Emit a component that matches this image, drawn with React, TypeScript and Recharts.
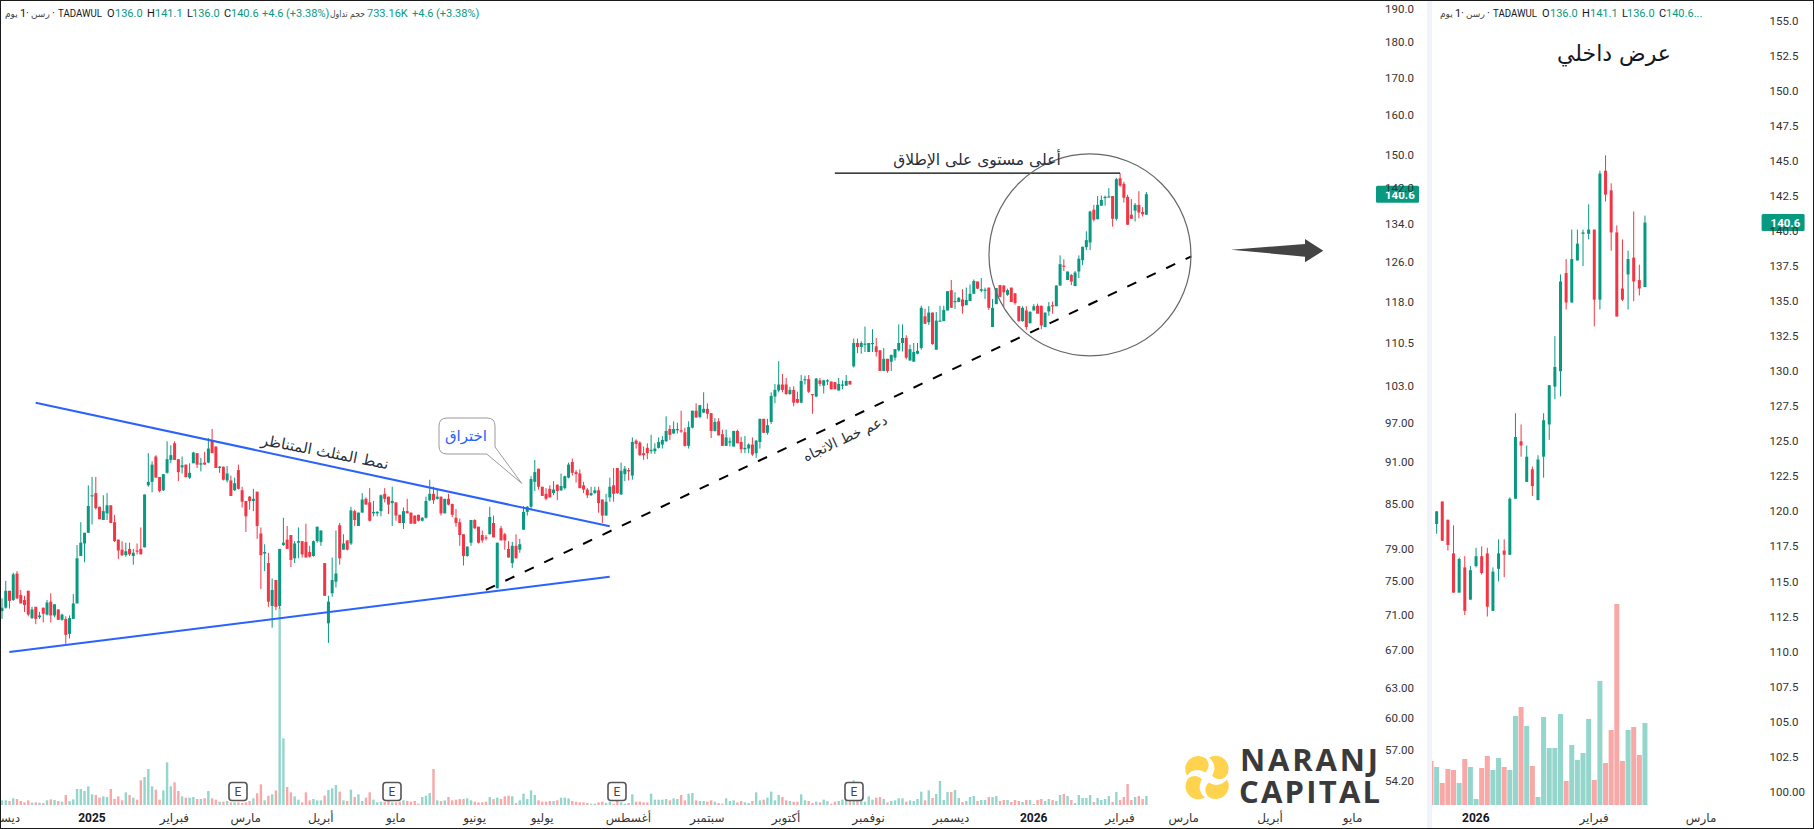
import React from "react";
import { ComposedChart, Bar, XAxis, YAxis, ReferenceLine, ReferenceDot } from "recharts";

const UP = "#089981";
const DOWN = "#f23645";
const UP_VOL = "#94d5cc";
const DOWN_VOL = "#f7a8a7";
const INK = "#131722";
const AR = "'DejaVu Sans', sans-serif";
const LAT = "Roboto, 'DejaVu Sans', sans-serif";

// ---- main (daily, log-scale) panel
const leftOpen = [
71.4,71.8,73.8,72.7,75.9,73.3,72.7,73.8,70.6,71.9,
70.7,71.8,71.0,72.5,70.9,71.6,70.4,70.5,68.8,70.5,
72.3,78.1,79.7,81.1,86.1,86.5,84.6,82.8,83.7,84.8,
82.5,80.2,78.9,78.2,79.0,78.1,78.8,79.0,79.2,87.6,
88.1,91.8,88.8,86.9,89.4,91.3,93.8,91.4,90.2,90.6,
88.7,90.8,92.3,90.6,90.9,90.9,94.3,93.3,90.1,90.3,
88.3,88.3,86.9,89.8,86.9,85.4,86.0,85.4,86.7,81.0,
78.4,77.2,72.0,75.1,72.0,79.5,80.2,80.8,77.8,79.8,
80.0,79.9,78.6,78.1,80.0,79.9,77.2,70.0,73.5,74.9,
82.1,78.9,80.1,79.7,84.0,82.0,83.8,85.7,85.2,83.7,
83.7,84.0,86.4,86.0,85.1,85.2,83.5,82.4,84.0,83.8,
83.4,83.5,82.7,83.1,85.5,86.4,85.7,86.0,83.7,85.7,
85.0,83.1,82.5,80.9,78.1,79.8,82.8,81.9,80.8,80.5,
80.9,82.4,74.1,81.7,80.9,79.0,77.2,79.4,78.9,81.5,
83.9,84.6,88.1,90.0,87.4,86.4,87.1,86.5,87.7,86.9,
87.2,88.7,91.0,89.5,89.3,87.6,87.0,86.2,86.5,86.9,
85.6,83.4,85.9,87.6,90.1,86.3,89.2,89.8,89.0,94.2,
93.9,92.3,93.1,92.6,92.6,93.1,93.6,94.1,96.0,95.3,
95.9,95.8,95.5,93.4,96.2,98.9,97.9,98.6,99.2,98.5,
95.7,97.2,95.2,93.4,93.9,93.3,95.7,94.0,92.9,93.0,
93.6,92.3,94.0,97.6,95.4,97.1,101.2,102.2,103.2,103.2,
101.6,102.3,100.8,100.2,103.9,104.1,101.6,101.2,103.9,103.0,
103.7,103.7,103.6,102.2,103.0,103.0,103.8,106.3,110.4,109.7,
110.2,108.8,110.2,109.8,109.1,105.5,107.6,107.1,107.8,109.1,
110.4,111.3,107.3,107.1,108.5,109.5,115.3,114.2,116.0,109.2,
114.4,114.4,116.4,120.3,118.1,118.0,118.5,117.4,118.2,119.6,
122.0,120.2,120.3,120.8,113.3,117.6,121.3,121.2,119.4,120.8,
119.7,117.2,114.4,116.4,114.0,116.4,117.3,117.3,113.3,116.2,
117.4,117.2,121.2,125.2,122.3,123.3,121.1,124.0,126.3,129.0,
130.0,137.1,135.0,138.0,139.9,140.0,140.2,135.1,144.3,143.0,
140.0,136.0,136.9,138.2,136.6,136.0];

const leftHigh = [
72.9,75.0,73.8,76.0,76.2,73.9,73.2,73.8,71.9,71.9,
71.3,71.8,72.7,73.5,72.2,71.6,71.1,70.8,70.9,73.4,
79.5,82.5,81.1,87.6,88.8,88.8,84.6,86.2,86.5,84.8,
83.5,80.2,80.0,79.8,79.8,79.0,79.7,81.8,86.3,92.3,
91.1,92.0,88.8,89.2,94.1,93.5,94.1,91.4,91.8,90.6,
90.8,92.5,92.3,91.6,92.5,94.6,96.0,93.3,90.4,90.3,
90.4,89.0,88.7,90.6,87.4,85.4,86.1,87.1,86.7,81.8,
79.6,78.5,75.3,75.1,79.0,83.1,82.0,80.8,80.0,81.8,
80.0,82.3,79.4,80.1,81.9,81.4,77.2,73.2,77.9,81.4,
82.4,80.9,80.1,84.6,84.2,83.8,86.5,85.9,87.2,85.4,
84.0,86.3,87.2,86.0,87.4,85.2,83.5,84.5,85.7,83.8,
83.4,83.5,83.2,86.0,88.4,87.4,87.0,86.0,85.7,86.4,
85.0,84.3,83.0,80.9,79.3,82.8,82.9,81.9,81.4,80.8,
84.6,83.4,79.8,82.0,81.1,80.0,79.9,80.9,80.3,84.7,
84.7,88.9,91.3,90.0,87.4,87.2,87.6,88.2,87.7,89.3,
89.0,90.9,91.5,89.8,89.9,88.1,87.2,87.4,87.4,87.4,
85.6,86.4,88.7,90.1,90.1,90.9,90.4,90.1,94.7,94.4,
94.1,93.3,93.8,95.1,93.8,94.7,94.9,98.0,96.6,97.2,
97.0,98.9,96.2,97.2,98.9,100.1,99.8,101.9,100.1,98.5,
97.7,97.7,95.9,95.9,94.7,95.7,95.9,94.8,94.9,93.8,
94.7,94.3,97.6,97.6,97.6,101.9,103.3,107.2,105.0,104.3,
102.8,102.9,102.0,104.8,104.7,104.8,101.6,104.3,104.3,104.0,
104.1,103.7,103.6,104.3,103.9,104.8,103.8,111.2,111.2,110.7,
113.4,110.4,112.9,111.3,109.1,109.5,107.6,108.3,109.3,113.8,
113.8,111.8,110.1,110.4,110.4,117.3,116.7,117.2,116.0,116.1,
117.3,117.3,120.1,122.3,119.9,119.0,120.5,120.8,121.4,122.4,
122.0,122.7,120.8,120.8,118.6,120.7,121.3,121.3,120.6,120.8,
119.7,117.2,117.2,117.2,116.3,117.6,117.7,117.3,116.0,118.0,
118.1,121.3,127.3,126.5,124.0,123.5,124.1,127.3,129.1,132.4,
136.9,138.2,140.2,140.3,140.3,142.0,140.2,144.4,145.5,143.5,
140.5,139.5,138.6,141.3,137.7,141.1];

const leftLow = [
70.5,71.7,71.7,72.6,72.8,72.3,71.3,70.8,70.5,69.9,
70.5,70.1,70.9,70.1,70.7,70.4,70.3,67.7,68.3,70.5,
72.3,78.1,77.3,81.1,82.2,84.2,82.9,82.8,82.8,82.4,
79.9,77.7,78.1,78.0,78.1,77.0,78.3,78.3,79.2,87.4,
86.6,88.7,86.6,86.8,89.3,90.8,91.3,88.2,89.3,88.7,
88.5,90.8,90.1,89.6,90.6,90.8,92.3,90.1,89.4,88.3,
88.0,86.1,86.8,87.0,84.5,81.2,84.2,84.0,80.3,74.0,
76.2,71.9,69.5,71.5,71.7,79.4,79.0,76.7,77.2,77.8,
77.9,77.9,77.9,78.0,79.8,79.4,73.2,67.8,73.1,74.2,
77.0,78.9,78.8,79.5,82.0,82.0,83.8,84.9,82.6,83.3,
83.3,83.3,85.2,83.6,82.0,82.7,82.4,81.6,83.7,82.3,
82.3,82.6,82.6,83.0,85.4,85.0,85.6,83.4,83.7,84.8,
83.2,81.9,79.4,76.9,78.0,79.4,81.6,79.7,79.8,80.1,
80.9,80.5,74.1,80.1,78.9,77.9,76.6,77.8,78.5,81.5,
83.4,84.2,86.8,87.0,86.1,85.5,85.9,86.2,85.5,86.8,
87.0,88.6,89.0,88.0,87.2,86.5,85.8,86.1,86.4,83.8,
82.4,83.4,85.3,85.3,86.4,86.3,88.2,88.3,88.4,93.0,
91.9,91.3,91.4,92.2,92.2,93.0,93.0,94.0,94.3,95.3,
95.3,95.4,93.3,93.0,96.1,97.8,97.7,98.5,97.6,94.6,
95.6,95.0,93.4,93.4,93.3,93.3,93.8,92.3,92.3,92.3,
91.9,91.6,93.0,95.4,95.1,96.8,100.1,101.9,101.9,101.5,
101.5,99.6,100.1,100.1,103.2,101.8,98.4,101.1,102.9,101.7,
103.1,102.4,102.4,102.2,102.4,103.0,103.2,106.1,108.6,108.5,
108.8,108.8,108.8,108.0,105.5,105.5,105.2,105.5,107.3,108.9,
108.9,107.5,107.3,107.1,108.4,109.2,113.9,113.7,110.1,109.2,
114.4,114.4,116.4,116.9,116.7,118.0,115.8,117.4,118.2,119.6,
120.5,119.9,118.6,116.5,113.3,117.6,118.9,117.1,119.2,118.0,
117.5,114.3,114.3,112.8,114.0,116.4,115.8,112.9,113.3,115.4,
115.8,117.2,121.2,124.1,122.3,121.3,121.1,122.7,125.3,128.4,
128.4,134.5,135.0,138.0,138.0,139.9,133.4,134.7,142.3,138.7,
133.8,135.1,134.5,135.2,135.6,136.0];

const leftClose = [
71.8,73.8,72.6,75.8,72.9,72.3,72.1,71.0,71.6,70.5,
70.9,71.1,72.4,70.9,72.2,70.4,71.0,68.7,70.6,72.3,
77.8,79.8,81.1,84.7,86.2,84.4,82.9,84.0,84.8,82.4,
80.0,78.8,78.2,78.7,78.3,78.5,78.7,78.3,86.3,88.1,
90.6,88.7,86.8,89.2,91.4,92.0,91.3,89.5,90.5,88.8,
89.4,92.4,90.6,90.8,90.6,93.0,92.3,90.1,90.3,88.4,
89.3,86.1,87.9,87.1,85.3,83.3,85.4,85.7,82.0,78.2,
78.6,72.5,73.9,71.9,79.0,79.8,79.0,77.6,79.7,80.0,
78.3,77.9,78.0,80.0,81.9,81.4,73.2,72.5,75.1,75.9,
77.8,79.7,78.9,84.1,82.8,83.8,85.6,84.9,82.7,83.9,
83.9,86.2,85.7,84.9,85.4,83.4,82.4,84.0,83.7,82.3,
82.3,82.7,83.1,85.4,86.4,85.5,86.0,83.7,85.7,84.9,
83.5,82.4,80.8,78.1,79.3,82.8,81.7,79.8,80.1,80.4,
83.2,80.5,79.8,80.1,80.1,77.9,79.4,77.8,79.6,83.9,
84.6,88.5,89.5,87.4,86.1,85.7,85.9,87.0,86.8,87.5,
88.9,90.6,89.4,89.2,87.2,87.0,86.2,86.5,86.9,85.1,
83.4,85.3,87.4,86.4,86.5,89.7,90.0,89.6,94.0,93.7,
92.0,92.0,92.3,92.8,93.0,94.0,94.3,95.7,95.1,96.0,
96.0,95.6,93.4,96.3,98.9,97.8,99.8,99.2,98.4,95.7,
97.1,95.0,93.4,94.7,94.1,95.7,93.8,92.9,93.1,93.6,
92.1,94.2,97.6,95.4,96.6,101.3,102.3,103.2,102.3,101.6,
102.3,100.2,100.2,103.8,104.1,102.0,101.5,104.2,103.3,103.9,
103.9,102.4,102.4,103.3,103.2,103.8,103.2,110.4,109.7,110.4,
110.3,110.4,110.4,108.8,105.5,107.6,105.5,108.3,109.3,110.4,
111.3,107.8,109.3,108.8,109.0,116.9,113.9,116.0,110.2,114.5,
114.5,116.5,120.1,116.9,118.2,118.8,117.2,118.4,119.6,122.1,
120.6,120.5,120.4,116.9,116.9,120.7,119.0,119.9,120.3,118.0,
117.8,114.4,116.9,113.3,116.1,117.2,115.8,113.6,116.0,117.2,
117.2,121.2,125.5,125.0,124.0,122.0,123.8,126.6,129.1,130.5,
136.7,134.9,138.2,139.3,140.0,140.1,135.1,144.1,142.6,139.8,
133.8,135.1,138.2,136.5,136.1,140.6];

// volume on the main panel, in lots of roughly 25K shares
const leftVolume = [
14,14,12,20,18,12,8,14,7,8,
7,6,14,17,15,12,10,30,12,17,
48,48,42,56,32,30,22,26,24,48,
18,26,14,38,30,22,16,74,84,108,
56,46,16,44,128,56,68,42,26,22,
22,24,18,18,20,42,20,16,10,10,
12,8,8,8,6,8,12,20,35,62,
14,28,32,44,592,200,54,38,26,16,
8,38,14,18,14,14,28,45,50,60,
40,14,12,46,24,32,12,22,38,16,
8,10,10,12,8,8,10,14,12,10,
12,4,24,28,36,108,14,12,14,24,
14,16,18,18,20,14,10,8,8,10,
24,18,22,18,26,28,26,6,14,34,
18,44,30,14,10,10,12,12,14,22,
22,20,12,10,8,8,6,4,4,8,
10,6,10,4,18,8,4,6,32,10,
10,8,8,34,16,16,16,18,14,20,
18,30,14,34,36,14,12,12,10,14,
10,6,4,20,12,14,8,12,8,6,
12,38,14,16,22,40,14,30,24,14,
12,10,10,32,14,12,6,10,8,16,
12,4,10,12,16,16,12,74,16,14,
10,26,16,22,24,18,8,12,14,20,
20,10,14,12,18,40,14,44,21,33,
72,15,39,39,45,21,9,12,24,27,
12,15,15,24,24,27,12,15,15,9,
15,12,9,15,15,3,15,18,12,18,
15,12,30,33,27,15,6,30,21,21,
30,9,21,15,18,27,9,39,15,24,
63,15,24,27,18,27];

const LEFT_SLOTS = 367;
const leftYTicks = [190,180,170,160,150,142,134,126,118,110.5,103,97,91,85,79,75,71,67,63,60,57,54.2];
const leftXTicks = [0,24,46,65,85,105,126,144,167,188,209,231,253,275,298,315,338,360];
const leftXLabels = ["ديسمبر","2025","فبراير","مارس","أبريل","مايو","يونيو","يوليو","أغسطس","سبتمبر","أكتوبر","نوفمبر","ديسمبر","2026","فبراير","مارس","أبريل","مايو"];

// ---- zoomed (linear) panel; its first slot only has a volume bar
const rightOpen = [119.1,120.7,119.4,117.0,114.2,116.0,113.7,116.1,116.8,117.0,112.9,115.9,117.2,116.9,120.9,125.0,122.1,123.0,120.8,123.9,126.2,128.9,130.0,137.0,134.9,137.9,139.8,139.8,140.1,135.1,144.3,142.9,139.9,135.9,136.9,138.1,136.5,136.0];
const rightHigh = [120.0,120.7,119.4,119.0,116.7,116.8,116.1,117.4,117.5,117.4,116.0,118.0,118.0,121.0,127.0,126.2,124.7,123.2,124.0,127.0,129.0,132.5,136.9,138.0,140.1,140.1,140.1,141.9,140.1,144.3,145.4,143.4,140.4,139.4,138.6,141.4,137.6,141.1];
const rightLow = [118.4,117.9,117.2,114.2,114.2,112.6,113.7,116.0,115.5,112.5,112.9,115.0,115.3,116.9,120.9,123.9,122.1,121.1,120.8,122.4,125.1,128.0,128.2,134.4,134.9,137.9,137.5,139.4,133.2,134.4,142.1,138.6,133.9,135.0,134.4,135.0,135.4,136.0];
const rightClose = [120.0,117.9,117.6,114.2,116.6,112.9,115.8,116.8,115.6,113.2,115.7,117.0,116.9,120.9,125.3,124.7,123.9,121.8,123.7,126.5,129.0,130.3,136.4,134.9,138.0,139.1,139.9,140.1,135.1,144.1,142.6,139.9,133.9,135.1,138.0,136.4,135.9,140.6];
const rightVolumeK = [393,340,197,322,313,197,411,340,54,331,438,313,420,340,313,796,876,706,349,72,787,510,510,814,215,536,402,465,769,224,1109,375,671,1797,393,671,697,447,733];

const RIGHT_SLOTS = 59;
const rightYTicks = [155,152.5,150,147.5,145,142.5,140,137.5,135,132.5,130,127.5,125,122.5,120,117.5,115,112.5,110,107.5,105,102.5,100];
const rightXTicks = [8,29,48];
const rightXLabels = ["2026","فبراير","مارس"];

const LAST_PRICE = 140.6;

// ---- drawn objects, anchored in chart coordinates
const upperTrend = [{ x: 9, y: 100.2 }, { x: 162, y: 81.95 }];
const lowerTrend = [{ x: 2, y: 66.8 }, { x: 162, y: 75.5 }];
const supportTrend = [{ x: 129, y: 73.9 }, { x: 317, y: 127.1 }];
const highLine = [{ x: 222, y: 145.5 }, { x: 298, y: 145.5 }];

type Row = { i: number; o?: number; h?: number; l?: number; c?: number; v?: number };

const leftRows: Row[] = Array.from({ length: LEFT_SLOTS }, (_, i) => ({
  i, o: leftOpen[i], h: leftHigh[i], l: leftLow[i], c: leftClose[i], v: leftVolume[i],
}));
const rightRows: Row[] = Array.from({ length: RIGHT_SLOTS }, (_, i) => ({
  i,
  o: rightOpen[i - 1], h: rightHigh[i - 1], l: rightLow[i - 1], c: rightClose[i - 1],
  v: rightVolumeK[i],
}));

const rangeKey = (d: Row) => (d.h == null ? null : [d.l, d.h]);
const volKey = (d: Row) => (d.v == null ? null : d.v);

const Candle = (log: boolean, bodyW: number) => (p: any) => {
  const d: Row = p.payload;
  if (!d || d.h == null || !(p.height >= 0 || p.height < 0)) return <g />;
  const top = Math.min(p.y, p.y + p.height);
  const len = Math.abs(p.height);
  const f = (v: number) => (log ? Math.log(v) : v);
  const span = f(d.h!) - f(d.l!);
  const at = (v: number) => (span > 0 ? top + (len * (f(d.h!) - f(v))) / span : top);
  const cx = p.x + p.width / 2;
  const color = d.c! >= d.o! ? UP : DOWN;
  const y1 = at(Math.max(d.o!, d.c!));
  const y2 = at(Math.min(d.o!, d.c!));
  return (
    <g>
      <rect x={cx - 0.5} y={top} width={1} height={Math.max(len, 1)} fill={color} />
      <rect x={cx - bodyW / 2} y={y1} width={bodyW} height={Math.max(y2 - y1, 1.2)} fill={color} />
    </g>
  );
};

const VolBar = (w: number) => (p: any) => {
  const d: Row = p.payload;
  if (!d || d.v == null) return <g />;
  const color = d.c == null ? DOWN_VOL : d.c >= d.o! ? UP_VOL : DOWN_VOL;
  return <rect x={p.x + p.width / 2 - w / 2} y={p.y} width={w} height={p.height} fill={color} />;
};

const XTick = (ticks: number[], labels: string[]) => (p: any) => {
  const s = labels[ticks.indexOf(p.payload.value)] ?? "";
  const year = /^\d+$/.test(s);
  return (
    <text x={p.x} y={822} textAnchor="middle" fontSize={12} fill={year ? INK : "#333"}
      fontWeight={year ? 700 : 400} fontFamily={year ? LAT : AR}>{s}</text>
  );
};

const PriceTag = (dx: number) => (p: any) => {
  const vb = p.viewBox;
  const x = vb.x + vb.width + dx;
  return (
    <g>
      <rect x={x} y={vb.y - 8.5} width={43} height={17} rx={1.5} fill={UP} />
      <text x={x + 9} y={vb.y + 4.3} fontSize={11.5} fontWeight={700} fill="#fff" fontFamily={LAT}>{LAST_PRICE.toFixed(1)}</text>
    </g>
  );
};

const leftTickFmt = (v: number) => (v >= 100 ? v.toFixed(1) : v.toFixed(2));
const rightTickFmt = (v: number) => (v === 100 ? "100.00" : v.toFixed(1));
const axisText = { fontSize: 11.5, fill: "#333", fontFamily: LAT };

const Header = ({ x, full }: { x: number; full: boolean }) => {
  const t = (dx: number, s: string, c: string, ar = false, len?: number) => (
    <text x={x + dx} y={17} fontSize={ar ? 9 : 11} fill={c} fontFamily={ar ? AR : LAT}
      textLength={len} lengthAdjust={len ? "spacingAndGlyphs" : undefined}>{s}</text>
  );
  return (
    <g>
      {t(0, "يوم", "#444", true)}
      {t(15, "1", INK)}
      {t(21, "·", INK)}
      {t(26, "رسن", "#444", true)}
      {t(47, "·", INK)}
      {t(53, "TADAWUL", INK, false, 44)}
      {t(102, "O", INK)}
      {t(110, "136.0", UP)}
      {t(142, "H", INK)}
      {t(150, "141.1", UP)}
      {t(182, "L", INK)}
      {t(187, "136.0", UP)}
      {t(219, "C", INK)}
      {t(226, full ? "140.6" : "140.6...", UP)}
      {full && t(257, "+4.6", UP)}
      {full && t(281, "(+3.38%)", UP)}
      {full && t(325, "حجم تداول", "#444", true, 35)}
      {full && t(362, "733.16K", UP)}
      {full && t(407, "+4.6", UP)}
      {full && t(431, "(+3.38%)", UP)}
    </g>
  );
};

const EMark = ({ x }: { x: number }) => (
  <g>
    <rect x={x - 9} y={782.5} width={18} height={18} rx={3} fill="#fff" stroke="#555" strokeWidth={1.6} />
    <text x={x} y={796} textAnchor="middle" fontSize={12} fill="#444" fontFamily={LAT}>E</text>
  </g>
);

const PETAL = "M -20 -2 A 13 13 0 0 1 -1 -19 C 3 -14 2 -8 -2 -5 C -8 -9 -15 -8 -20 -2 Z";

const Overlay = () => (
  <svg width={1814} height={829} style={{ position: "absolute", left: 0, top: 0, pointerEvents: "none" }}>
    <rect x={1427} y={0} width={5} height={829} fill="#f0f3fa" />
    <rect x={0.5} y={0.5} width={1813} height={828} fill="none" stroke="#1a1a1a" strokeWidth={1} />
    <Header x={5} full />
    <Header x={1440} full={false} />
    <EMark x={238} />
    <EMark x={392} />
    <EMark x={617} />
    <EMark x={854} />
    <g fontFamily={AR} fill="#2a2e39">
      <text x={325} y={457} fontSize={15} textAnchor="middle" transform="rotate(11 325 452)">نمط المثلث المتناظر</text>
      <text x={845} y={443} fontSize={14} textAnchor="middle" transform="rotate(-25 845 438)">دعم خط الاتجاه</text>
      <text x={977} y={165} fontSize={15.5} textAnchor="middle">أعلى مستوى على الإطلاق</text>
      <text x={1614} y={61} fontSize={22} textAnchor="middle" fill="#131722">عرض داخلي</text>
    </g>
    <path d="M 447 418 H 487 Q 495 418 495 426 V 447 L 521.7 483.3 L 486.7 454 H 447 Q 439 454 439 446 V 426 Q 439 418 447 418 Z"
      fill="#fff" stroke="#9a9a9a" strokeWidth={1} />
    <text x={466} y={441} fontSize={15} textAnchor="middle" fill="#2962ff" fontFamily={AR}>اختراق</text>
    <polygon points="1231,249.7 1305,244 1305,239 1323.3,250.7 1305,262.3 1305,256.7" fill="#444" />
    <g transform="translate(1207 777.5)" fill="#ffd34e">
      <path d={PETAL} />
      <path d={PETAL} transform="rotate(90)" />
      <path d={PETAL} transform="rotate(180)" />
      <path d={PETAL} transform="rotate(270)" />
    </g>
    <g fontFamily="'Open Sans', Roboto, sans-serif" fontWeight={700} fill="#3a3a3a" fontSize={31}>
      <text x={1240} y={771} textLength={138} lengthAdjust="spacing">NARANJ</text>
      <text x={1239} y={803} textLength={141} lengthAdjust="spacing">CAPITAL</text>
    </g>
  </svg>
);

export default function App() {
  return (
    <div style={{ position: "absolute", left: 0, top: 0, width: 1814, height: 829, background: "#fff", overflow: "hidden" }}>
      <div style={{ position: "absolute", left: 0, top: 0 }}>
        <ComposedChart width={1427} height={829} data={leftRows} barCategoryGap={0} barGap={0}
          margin={{ top: 0, right: 0, bottom: 0, left: 0 }}>
          <XAxis xAxisId="p" dataKey="i" type="category" ticks={leftXTicks} interval={0} height={24}
            axisLine={false} tickLine={false} tick={XTick(leftXTicks, leftXLabels)} />
          <XAxis xAxisId="v" dataKey="i" type="category" hide />
          <YAxis yAxisId="price" orientation="right" scale="log" domain={[52.1, 192.8]} allowDataOverflow
            ticks={leftYTicks} interval={0} width={50} axisLine={false} tickLine={false} tickSize={0} tickMargin={8}
            tick={axisText} tickFormatter={leftTickFmt} />
          <YAxis yAxisId="vol" hide domain={[0, 2415]} />
          <Bar xAxisId="v" yAxisId="vol" dataKey={volKey} isAnimationActive={false} shape={VolBar(2.4)} />
          <Bar xAxisId="p" yAxisId="price" dataKey={rangeKey} isAnimationActive={false} shape={Candle(true, 3)} />
          <ReferenceLine xAxisId="p" yAxisId="price" segment={upperTrend} stroke="#2962ff" strokeWidth={2} ifOverflow="visible" />
          <ReferenceLine xAxisId="p" yAxisId="price" segment={lowerTrend} stroke="#2962ff" strokeWidth={2} ifOverflow="visible" />
          <ReferenceLine xAxisId="p" yAxisId="price" segment={supportTrend} stroke="#000" strokeWidth={2} strokeDasharray="10 11.5" ifOverflow="visible" />
          <ReferenceLine xAxisId="p" yAxisId="price" segment={highLine} stroke="#000" strokeWidth={1.4} ifOverflow="visible" />
          <ReferenceDot xAxisId="p" yAxisId="price" x={290} y={127.4} r={101} fill="none" stroke="#666" strokeWidth={1.2} ifOverflow="visible" />
          <ReferenceLine xAxisId="p" yAxisId="price" y={LAST_PRICE} stroke="none" label={{ content: PriceTag(-1) }} />
        </ComposedChart>
      </div>
      <div style={{ position: "absolute", left: 1428.4, top: 0 }}>
        <ComposedChart width={383.6} height={829} data={rightRows} barCategoryGap={0} barGap={0}
          margin={{ top: 0, right: 0, bottom: 0, left: 0 }}>
          <XAxis xAxisId="p" dataKey="i" type="category" ticks={rightXTicks} interval={0} height={24}
            axisLine={false} tickLine={false} tick={XTick(rightXTicks, rightXLabels)} />
          <XAxis xAxisId="v" dataKey="i" type="category" hide />
          <YAxis yAxisId="price" orientation="right" domain={[99.05, 156.48]} allowDataOverflow
            ticks={rightYTicks} interval={0} width={51.4} axisLine={false} tickLine={false} tickSize={0} tickMargin={9.4}
            tick={axisText} tickFormatter={rightTickFmt} />
          <YAxis yAxisId="vol" hide domain={[0, 7197]} />
          <Bar xAxisId="v" yAxisId="vol" dataKey={volKey} isAnimationActive={false} shape={VolBar(5)} />
          <Bar xAxisId="p" yAxisId="price" dataKey={rangeKey} isAnimationActive={false} shape={Candle(false, 3)} />
          <ReferenceLine xAxisId="p" yAxisId="price" y={LAST_PRICE} stroke="none" label={{ content: PriceTag(1.4) }} />
        </ComposedChart>
      </div>
      <Overlay />
    </div>
  );
}
